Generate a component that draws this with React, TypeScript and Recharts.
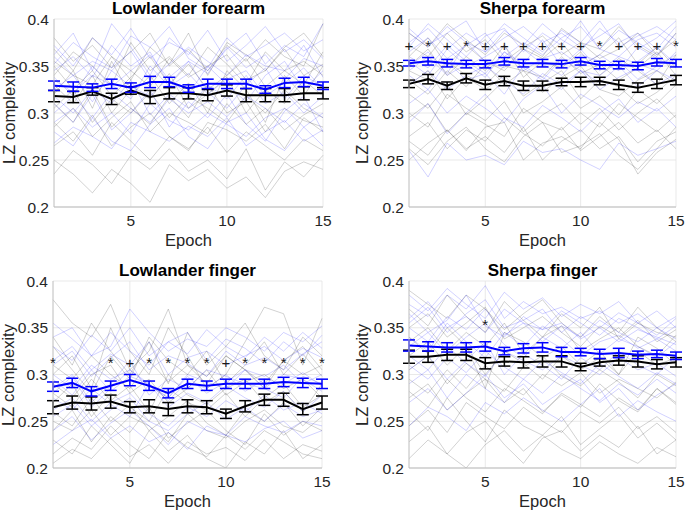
import { ComposedChart, Line, Scatter, XAxis, YAxis, CartesianGrid, ErrorBar } from 'recharts';

const EPOCHS = [1, 2, 3, 4, 5, 6, 7, 8, 9, 10, 11, 12, 13, 14, 15];
const Y_TICKS = [0.2, 0.25, 0.3, 0.35, 0.4];
const X_TICKS = [5, 10, 15];

// group means (blue = one group, black = other)
const LF_BLUE = [0.329, 0.328, 0.327, 0.331, 0.327, 0.333, 0.333, 0.326, 0.331, 0.331, 0.331, 0.325, 0.332, 0.333, 0.329];
const LF_BLACK = [0.318, 0.317, 0.323, 0.315, 0.324, 0.317, 0.321, 0.321, 0.319, 0.324, 0.319, 0.319, 0.319, 0.321, 0.321];
const SF_BLUE = [0.353, 0.355, 0.353, 0.352, 0.352, 0.355, 0.353, 0.353, 0.352, 0.355, 0.351, 0.351, 0.350, 0.354, 0.353];
const SF_BLACK = [0.331, 0.336, 0.329, 0.337, 0.330, 0.334, 0.329, 0.329, 0.333, 0.333, 0.334, 0.330, 0.327, 0.331, 0.335];
const LFI_BLUE = [0.287, 0.291, 0.282, 0.288, 0.294, 0.288, 0.280, 0.290, 0.288, 0.290, 0.290, 0.290, 0.292, 0.291, 0.290];
const LFI_BLACK = [0.265, 0.270, 0.269, 0.271, 0.265, 0.266, 0.263, 0.266, 0.265, 0.258, 0.266, 0.273, 0.273, 0.263, 0.270];
const SFI_BLUE = [0.331, 0.330, 0.329, 0.329, 0.330, 0.325, 0.328, 0.329, 0.324, 0.324, 0.322, 0.323, 0.321, 0.322, 0.320];
const SFI_BLACK = [0.319, 0.319, 0.321, 0.321, 0.312, 0.314, 0.313, 0.314, 0.314, 0.308, 0.313, 0.315, 0.314, 0.311, 0.313];

// standard errors
const LF_BLUE_ERR = [0.005, 0.005, 0.004, 0.005, 0.005, 0.006, 0.005, 0.004, 0.005, 0.005, 0.005, 0.004, 0.005, 0.005, 0.004];
const LF_BLACK_ERR = [0.006, 0.006, 0.004, 0.006, 0.004, 0.007, 0.006, 0.006, 0.006, 0.006, 0.007, 0.007, 0.007, 0.007, 0.006];
const SF_BLUE_ERR = [0.003, 0.004, 0.004, 0.004, 0.004, 0.004, 0.004, 0.004, 0.004, 0.004, 0.004, 0.004, 0.004, 0.004, 0.004];
const SF_BLACK_ERR = [0.004, 0.005, 0.004, 0.005, 0.005, 0.005, 0.005, 0.005, 0.004, 0.005, 0.004, 0.005, 0.005, 0.005, 0.005];
const LFI_BLUE_ERR = [0.005, 0.005, 0.005, 0.005, 0.006, 0.005, 0.005, 0.005, 0.005, 0.005, 0.005, 0.005, 0.005, 0.005, 0.005];
const LFI_BLACK_ERR = [0.007, 0.007, 0.007, 0.007, 0.006, 0.007, 0.007, 0.007, 0.007, 0.005, 0.006, 0.006, 0.007, 0.006, 0.007];
const SFI_BLUE_ERR = [0.006, 0.005, 0.005, 0.005, 0.005, 0.004, 0.005, 0.005, 0.005, 0.004, 0.005, 0.005, 0.004, 0.004, 0.004];
const SFI_BLACK_ERR = [0.007, 0.006, 0.006, 0.006, 0.006, 0.005, 0.006, 0.006, 0.006, 0.004, 0.004, 0.005, 0.006, 0.005, 0.005];

// significance marks per epoch
const SF_MARKS = ['+', '*', '+', '*', '+', '+', '+', '+', '+', '+', '*', '+', '+', '+', '*'];
const LFI_MARKS = ['*', '', '', '*', '+', '*', '*', '*', '*', '+', '*', '*', '*', '*', '*'];
const SFI_MARKS = ['', '', '', '', '*', '', '', '', '', '', '', '', '', '', ''];
const LF_MARKS = EPOCHS.map(() => '');

// individual subjects, in thousandths
const LF_SUBJ_BLUE = [
  [345, 360, 338, 372, 350, 365, 330, 355, 342, 370, 348, 362, 336, 358, 350],
  [318, 300, 325, 310, 335, 298, 320, 305, 330, 315, 340, 310, 322, 300, 318],
  [372, 350, 380, 362, 390, 358, 375, 365, 348, 380, 360, 372, 385, 366, 378],
  [290, 305, 285, 300, 278, 310, 292, 282, 300, 288, 275, 295, 305, 285, 300],
  [335, 322, 340, 330, 315, 350, 328, 342, 320, 336, 345, 318, 332, 348, 325],
  [360, 340, 355, 345, 366, 335, 352, 370, 355, 340, 362, 350, 345, 372, 338],
  [300, 318, 295, 322, 305, 290, 315, 300, 312, 296, 318, 305, 290, 310, 295],
  [268, 285, 275, 262, 290, 280, 270, 286, 275, 295, 265, 280, 292, 270, 282],
  [352, 375, 360, 348, 382, 370, 392, 358, 345, 368, 385, 352, 372, 360, 395],
  [325, 340, 312, 345, 328, 318, 338, 355, 322, 305, 330, 348, 315, 340, 328],
  [310, 290, 320, 282, 300, 325, 285, 312, 295, 320, 288, 270, 302, 318, 280],
  [362, 385, 345, 395, 370, 340, 380, 362, 388, 355, 372, 392, 365, 378, 358],
  [280, 265, 295, 270, 260, 288, 305, 275, 262, 290, 300, 272, 260, 285, 265],
  [338, 318, 350, 328, 345, 362, 335, 320, 350, 330, 312, 340, 355, 325, 345],
];
const LF_SUBJ_BLACK = [
  [380, 355, 372, 348, 365, 385, 350, 368, 345, 372, 355, 378, 360, 350, 395],
  [250, 235, 215, 240, 225, 205, 245, 228, 240, 220, 232, 210, 238, 248, 240],
  [330, 310, 340, 300, 325, 315, 342, 305, 320, 338, 300, 325, 310, 335, 318],
  [290, 270, 298, 265, 285, 300, 275, 260, 290, 282, 270, 288, 262, 295, 280],
  [355, 340, 330, 360, 345, 328, 358, 338, 350, 362, 335, 345, 368, 340, 352],
  [305, 325, 290, 315, 300, 322, 295, 318, 305, 290, 318, 300, 325, 305, 295],
  [265, 280, 255, 290, 270, 250, 275, 262, 285, 258, 280, 265, 250, 272, 260],
  [340, 365, 350, 330, 375, 345, 360, 340, 370, 352, 330, 365, 345, 355, 340],
  [320, 345, 305, 355, 318, 340, 310, 332, 300, 345, 325, 290, 340, 318, 350],
  [235, 260, 245, 225, 255, 240, 262, 238, 250, 230, 262, 218, 248, 232, 255],
  [368, 345, 380, 360, 335, 370, 352, 385, 340, 375, 362, 345, 370, 385, 360],
  [285, 305, 275, 295, 312, 280, 300, 290, 278, 310, 288, 305, 282, 298, 310],
  [310, 290, 325, 285, 305, 288, 318, 295, 330, 300, 312, 280, 305, 292, 285],
  [350, 325, 345, 318, 338, 360, 330, 352, 325, 340, 358, 328, 345, 330, 365],
];
const SF_SUBJ_BLUE = [
  [385, 370, 392, 375, 365, 388, 372, 395, 378, 366, 390, 375, 385, 368, 392],
  [345, 360, 340, 352, 338, 365, 348, 335, 358, 345, 340, 355, 336, 350, 362],
  [260, 232, 268, 250, 255, 245, 270, 258, 262, 250, 240, 268, 255, 262, 270],
  [365, 380, 358, 372, 385, 360, 375, 362, 380, 392, 368, 360, 378, 385, 370],
  [330, 345, 325, 340, 350, 335, 320, 342, 330, 345, 325, 338, 348, 330, 342],
  [355, 340, 368, 350, 360, 372, 345, 358, 365, 350, 362, 348, 355, 370, 352],
  [310, 325, 300, 318, 305, 290, 315, 330, 300, 320, 308, 295, 312, 302, 318],
  [375, 390, 368, 385, 372, 395, 380, 365, 388, 375, 398, 370, 382, 392, 378],
  [370, 395, 378, 360, 382, 390, 365, 385, 372, 398, 368, 388, 375, 362, 385],
  [350, 365, 342, 375, 355, 348, 368, 352, 340, 362, 355, 345, 370, 358, 348],
  [340, 325, 355, 335, 342, 320, 350, 338, 325, 345, 332, 350, 328, 345, 335],
  [390, 372, 385, 398, 365, 380, 392, 375, 385, 370, 382, 395, 368, 380, 398],
  [290, 310, 278, 300, 320, 295, 285, 308, 295, 280, 300, 315, 290, 305, 285],
  [360, 348, 372, 355, 342, 365, 352, 378, 350, 368, 345, 360, 352, 345, 365],
];
const SF_SUBJ_BLACK = [
  [270, 255, 282, 260, 285, 290, 250, 268, 275, 262, 290, 272, 235, 258, 272],
  [360, 380, 350, 372, 355, 345, 368, 358, 375, 350, 362, 380, 352, 370, 348],
  [320, 305, 330, 298, 315, 335, 300, 312, 328, 305, 318, 298, 325, 310, 330],
  [345, 335, 355, 340, 330, 350, 345, 338, 360, 342, 352, 335, 348, 365, 340],
  [295, 310, 280, 300, 288, 275, 305, 290, 282, 300, 285, 310, 295, 280, 298],
  [262, 245, 270, 285, 262, 248, 275, 290, 258, 265, 278, 255, 240, 262, 285],
  [372, 360, 385, 365, 378, 355, 370, 382, 362, 375, 358, 368, 385, 362, 378],
  [330, 345, 315, 338, 325, 340, 318, 332, 345, 315, 335, 328, 310, 322, 340],
  [350, 368, 340, 360, 345, 372, 338, 355, 348, 365, 340, 358, 345, 330, 362],
  [300, 285, 320, 305, 292, 312, 280, 298, 310, 288, 305, 282, 300, 315, 295],
  [385, 370, 395, 378, 362, 385, 372, 360, 390, 375, 368, 392, 372, 360, 385],
  [275, 290, 262, 282, 270, 295, 278, 265, 285, 260, 275, 290, 268, 282, 262],
  [335, 320, 345, 328, 352, 330, 345, 322, 338, 350, 325, 318, 335, 345, 330],
  [250, 268, 282, 262, 275, 258, 285, 250, 270, 282, 262, 275, 248, 270, 280],
];
const LFI_SUBJ_BLUE = [
  [340, 350, 320, 330, 370, 345, 325, 338, 330, 350, 340, 325, 345, 335, 352],
  [300, 285, 310, 295, 305, 288, 275, 300, 292, 285, 305, 298, 310, 290, 300],
  [262, 275, 250, 270, 280, 258, 245, 265, 255, 272, 260, 278, 262, 270, 258],
  [315, 330, 305, 322, 310, 335, 300, 318, 325, 310, 320, 330, 315, 328, 318],
  [240, 255, 230, 248, 262, 245, 225, 250, 240, 235, 255, 245, 238, 250, 245],
  [285, 300, 270, 290, 315, 278, 295, 285, 305, 298, 290, 285, 300, 295, 282],
  [355, 338, 320, 345, 325, 310, 335, 322, 348, 330, 318, 340, 325, 345, 328],
  [275, 262, 285, 268, 255, 290, 265, 280, 270, 288, 275, 265, 282, 260, 278],
  [310, 325, 298, 318, 335, 305, 320, 312, 298, 325, 310, 318, 305, 322, 335],
  [295, 278, 305, 282, 298, 290, 272, 292, 285, 300, 282, 295, 290, 302, 288],
  [330, 315, 342, 325, 350, 320, 335, 345, 315, 338, 328, 312, 335, 320, 342],
  [255, 268, 245, 262, 275, 250, 240, 258, 270, 252, 265, 250, 268, 255, 262],
  [280, 298, 265, 285, 305, 290, 275, 298, 280, 292, 305, 285, 275, 298, 290],
  [225, 240, 252, 232, 245, 228, 238, 220, 245, 235, 228, 242, 250, 232, 240],
];
const LFI_SUBJ_BLACK = [
  [380, 355, 340, 375, 325, 300, 350, 320, 285, 300, 335, 372, 365, 310, 360],
  [230, 215, 245, 225, 205, 240, 218, 235, 210, 200, 228, 215, 240, 210, 225],
  [270, 290, 255, 280, 265, 250, 285, 270, 262, 280, 255, 275, 290, 265, 278],
  [310, 295, 320, 300, 285, 315, 292, 310, 298, 320, 305, 290, 315, 300, 310],
  [250, 240, 262, 235, 255, 245, 228, 258, 240, 232, 250, 262, 245, 238, 255],
  [290, 275, 300, 310, 280, 295, 270, 285, 305, 278, 292, 300, 285, 295, 275],
  [215, 232, 220, 245, 225, 210, 238, 222, 212, 235, 220, 240, 228, 215, 210],
  [330, 305, 280, 320, 295, 340, 315, 300, 325, 290, 310, 335, 300, 322, 298],
  [300, 320, 285, 350, 305, 325, 370, 310, 290, 320, 305, 285, 315, 330, 305],
  [260, 245, 275, 250, 268, 240, 255, 272, 248, 235, 262, 250, 270, 245, 265],
  [340, 310, 355, 325, 300, 335, 290, 345, 310, 330, 355, 320, 305, 340, 320],
  [240, 262, 228, 255, 238, 265, 232, 248, 262, 240, 225, 258, 235, 250, 240],
  [280, 265, 295, 272, 288, 260, 300, 278, 268, 285, 295, 270, 282, 260, 290],
  [205, 220, 210, 232, 212, 225, 205, 228, 215, 222, 208, 230, 210, 225, 218],
];
const SFI_SUBJ_BLUE = [
  [375, 362, 385, 370, 395, 360, 378, 365, 372, 360, 368, 355, 365, 350, 362],
  [340, 325, 355, 335, 318, 345, 330, 352, 338, 320, 335, 342, 328, 338, 325],
  [290, 305, 275, 300, 285, 270, 295, 280, 300, 285, 272, 290, 278, 295, 280],
  [355, 372, 345, 365, 380, 350, 358, 370, 345, 362, 350, 366, 355, 342, 360],
  [245, 265, 255, 240, 270, 258, 275, 262, 250, 268, 285, 255, 272, 260, 250],
  [320, 305, 330, 312, 298, 325, 315, 305, 320, 310, 300, 318, 305, 312, 298],
  [365, 345, 358, 385, 352, 340, 362, 348, 355, 338, 350, 335, 348, 340, 332],
  [305, 320, 295, 315, 335, 300, 322, 310, 295, 318, 305, 325, 310, 300, 320],
  [385, 368, 392, 375, 360, 388, 370, 382, 362, 375, 365, 378, 355, 368, 350],
  [330, 345, 322, 340, 355, 332, 318, 340, 328, 345, 322, 338, 330, 318, 335],
  [270, 285, 262, 280, 300, 275, 290, 268, 282, 295, 270, 285, 262, 278, 290],
  [350, 335, 362, 348, 370, 342, 355, 335, 352, 340, 358, 345, 335, 350, 338],
  [310, 295, 318, 302, 325, 308, 295, 315, 302, 290, 312, 298, 285, 302, 290],
  [360, 378, 350, 362, 345, 370, 355, 348, 368, 355, 342, 360, 350, 338, 352],
];
const SFI_SUBJ_BLACK = [
  [390, 375, 360, 385, 370, 348, 365, 380, 355, 340, 362, 345, 372, 350, 335],
  [260, 240, 275, 250, 228, 262, 245, 235, 255, 225, 242, 258, 232, 248, 230],
  [320, 335, 310, 330, 300, 325, 312, 295, 320, 305, 318, 300, 325, 310, 318],
  [350, 365, 340, 355, 372, 338, 350, 362, 345, 330, 352, 340, 358, 335, 348],
  [210, 230, 215, 200, 225, 240, 218, 235, 220, 210, 228, 215, 205, 222, 212],
  [295, 280, 305, 285, 310, 290, 278, 300, 288, 302, 280, 295, 285, 275, 292],
  [340, 322, 350, 330, 285, 345, 335, 318, 330, 310, 325, 300, 340, 328, 310],
  [275, 290, 262, 280, 295, 270, 285, 260, 278, 265, 290, 272, 260, 285, 268],
  [370, 352, 385, 362, 345, 378, 358, 340, 365, 350, 372, 338, 355, 345, 340],
  [305, 320, 290, 312, 295, 282, 308, 320, 298, 288, 305, 292, 275, 300, 288],
  [245, 262, 238, 270, 255, 242, 265, 250, 238, 260, 248, 265, 242, 255, 238],
  [335, 350, 325, 345, 330, 355, 322, 340, 352, 325, 338, 350, 330, 320, 342],
  [282, 265, 295, 275, 260, 285, 272, 258, 280, 268, 255, 275, 262, 285, 270],
  [228, 245, 215, 238, 250, 225, 205, 232, 240, 218, 235, 222, 245, 215, 230],
];

const FONT = '"Liberation Sans", Arial, Helvetica, sans-serif';
const TXT = '#262626';

interface PanelProps {
  title: string;
  left: number;
  top: number;
  width: number;
  height: number;
  margin: { top: number; right: number; bottom: number; left: number };
  yWidth: number;
  labelGap: number;
  blue: number[];
  blueErr: number[];
  black: number[];
  blackErr: number[];
  subjBlue: number[][];
  subjBlack: number[][];
  marks: string[];
  markY: number;
}

function MarkShape(props: any) {
  const { cx, cy, payload } = props;
  if (!payload.mark) return <g />;
  return (
    <text x={cx} y={cy + 5} textAnchor="middle" fontSize={15} fontFamily={FONT} fill="#1a1a1a">
      {payload.mark}
    </text>
  );
}

function Panel(p: PanelProps) {
  const data = EPOCHS.map((e, i) => {
    const row: Record<string, number> = {
      epoch: e,
      blue: p.blue[i],
      blueErr: p.blueErr[i],
      black: p.black[i],
      blackErr: p.blackErr[i],
    };
    p.subjBlue.forEach((s, j) => (row[`b${j}`] = s[i] / 1000));
    p.subjBlack.forEach((s, j) => (row[`k${j}`] = s[i] / 1000));
    return row;
  });
  const markData = EPOCHS.map((e, i) => ({ epoch: e, y: p.markY, mark: p.marks[i] })).filter((d) => d.mark);

  const plotW = p.width - p.margin.left - p.margin.right - p.yWidth;
  const plotX = p.left + p.margin.left + p.yWidth;
  const plotTop = p.top + p.margin.top;
  const plotH = p.height - p.margin.top - p.margin.bottom - 30;

  const lines = [];
  for (let j = 0; j < Math.max(p.subjBlue.length, p.subjBlack.length); j++) {
    if (j < p.subjBlack.length)
      lines.push(
        <Line key={`k${j}`} type="linear" dataKey={`k${j}`} stroke="#000" strokeOpacity={0.26} strokeWidth={0.7} dot={false} isAnimationActive={false} />
      );
    if (j < p.subjBlue.length)
      lines.push(
        <Line key={`b${j}`} type="linear" dataKey={`b${j}`} stroke="#0000ff" strokeOpacity={0.26} strokeWidth={0.7} dot={false} isAnimationActive={false} />
      );
  }

  return (
    <>
      <div
        style={{
          position: 'absolute',
          left: plotX,
          width: plotW,
          top: plotTop - 19,
          textAlign: 'center',
          fontFamily: FONT,
          fontWeight: 'bold',
          fontSize: 17,
          color: '#000',
          lineHeight: '17px',
          whiteSpace: 'nowrap',
        }}
      >
        {p.title}
      </div>
      <div style={{ position: 'absolute', left: p.left, top: p.top }}>
        <ComposedChart width={p.width} height={p.height} data={data} margin={p.margin}>
          <CartesianGrid stroke="#e3e3e3" strokeWidth={0.8} horizontalValues={Y_TICKS} verticalValues={X_TICKS} />
          <XAxis
            dataKey="epoch"
            type="number"
            domain={[1, 15]}
            ticks={X_TICKS}
            height={30}
            stroke="#bcbcbc"
            tickLine={false}
            tickSize={0}
            tick={{ fill: TXT, fontSize: 15.5, fontFamily: FONT }}
            tickMargin={8}
          />
          <YAxis
            type="number"
            domain={[0.2, 0.4]}
            ticks={Y_TICKS}
            width={p.yWidth}
            stroke="#bcbcbc"
            tickLine={false}
            tickSize={0}
            tick={{ fill: TXT, fontSize: 15.5, fontFamily: FONT }}
            tickMargin={5}
            tickFormatter={(v: number) => String(v)}
            allowDataOverflow
          />
          {lines}
          <Line type="linear" dataKey="black" stroke="#000" strokeWidth={2} dot={false} isAnimationActive={false}>
            <ErrorBar dataKey="blackErr" width={6} stroke="#000" strokeWidth={1.5} direction="y" />
          </Line>
          <Line type="linear" dataKey="blue" stroke="#0000ff" strokeWidth={2} dot={false} isAnimationActive={false}>
            <ErrorBar dataKey="blueErr" width={6} stroke="#0000ff" strokeWidth={1.5} direction="y" />
          </Line>
          <Scatter data={markData} dataKey="y" shape={MarkShape} isAnimationActive={false} />
        </ComposedChart>
      </div>
      <div
        style={{
          position: 'absolute',
          left: plotX,
          width: plotW,
          top: plotTop + plotH + 24,
          textAlign: 'center',
          fontFamily: FONT,
          fontSize: 16.5,
          color: TXT,
          lineHeight: '18px',
        }}
      >
        Epoch
      </div>
      <div
        style={{
          position: 'absolute',
          left: plotX - p.labelGap - 60,
          top: plotTop + plotH / 2 - 9,
          width: 120,
          textAlign: 'center',
          transform: 'rotate(-90deg)',
          fontFamily: FONT,
          fontSize: 16.5,
          color: TXT,
          lineHeight: '18px',
          whiteSpace: 'nowrap',
        }}
      >
        LZ complexity
      </div>
    </>
  );
}

export default function App() {
  return (
    <div style={{ position: 'absolute', left: 0, top: 0, width: 685, height: 512, background: '#fff', overflow: 'hidden' }}>
      <Panel
        title="Lowlander forearm"
        left={0}
        top={0}
        width={342}
        height={256}
        margin={{ top: 19, right: 19, bottom: 19, left: 0 }}
        yWidth={54}
        labelGap={45}
        blue={LF_BLUE}
        blueErr={LF_BLUE_ERR}
        black={LF_BLACK}
        blackErr={LF_BLACK_ERR}
        subjBlue={LF_SUBJ_BLUE}
        subjBlack={LF_SUBJ_BLACK}
        marks={LF_MARKS}
        markY={0.37}
      />
      <Panel
        title="Sherpa forearm"
        left={342}
        top={0}
        width={343}
        height={256}
        margin={{ top: 19, right: 9, bottom: 19, left: 0 }}
        yWidth={67}
        labelGap={47}
        blue={SF_BLUE}
        blueErr={SF_BLUE_ERR}
        black={SF_BLACK}
        blackErr={SF_BLACK_ERR}
        subjBlue={SF_SUBJ_BLUE}
        subjBlack={SF_SUBJ_BLACK}
        marks={SF_MARKS}
        markY={0.371}
      />
      <Panel
        title="Lowlander finger"
        left={0}
        top={256}
        width={342}
        height={256}
        margin={{ top: 25, right: 20, bottom: 14, left: 0 }}
        yWidth={53}
        labelGap={45}
        blue={LFI_BLUE}
        blueErr={LFI_BLUE_ERR}
        black={LFI_BLACK}
        blackErr={LFI_BLACK_ERR}
        subjBlue={LFI_SUBJ_BLUE}
        subjBlack={LFI_SUBJ_BLACK}
        marks={LFI_MARKS}
        markY={0.312}
      />
      <Panel
        title="Sherpa finger"
        left={342}
        top={256}
        width={343}
        height={256}
        margin={{ top: 25, right: 9, bottom: 14, left: 0 }}
        yWidth={67}
        labelGap={47}
        blue={SFI_BLUE}
        blueErr={SFI_BLUE_ERR}
        black={SFI_BLACK}
        blackErr={SFI_BLACK_ERR}
        subjBlue={SFI_SUBJ_BLUE}
        subjBlack={SFI_SUBJ_BLACK}
        marks={SFI_MARKS}
        markY={0.353}
      />
    </div>
  );
}
